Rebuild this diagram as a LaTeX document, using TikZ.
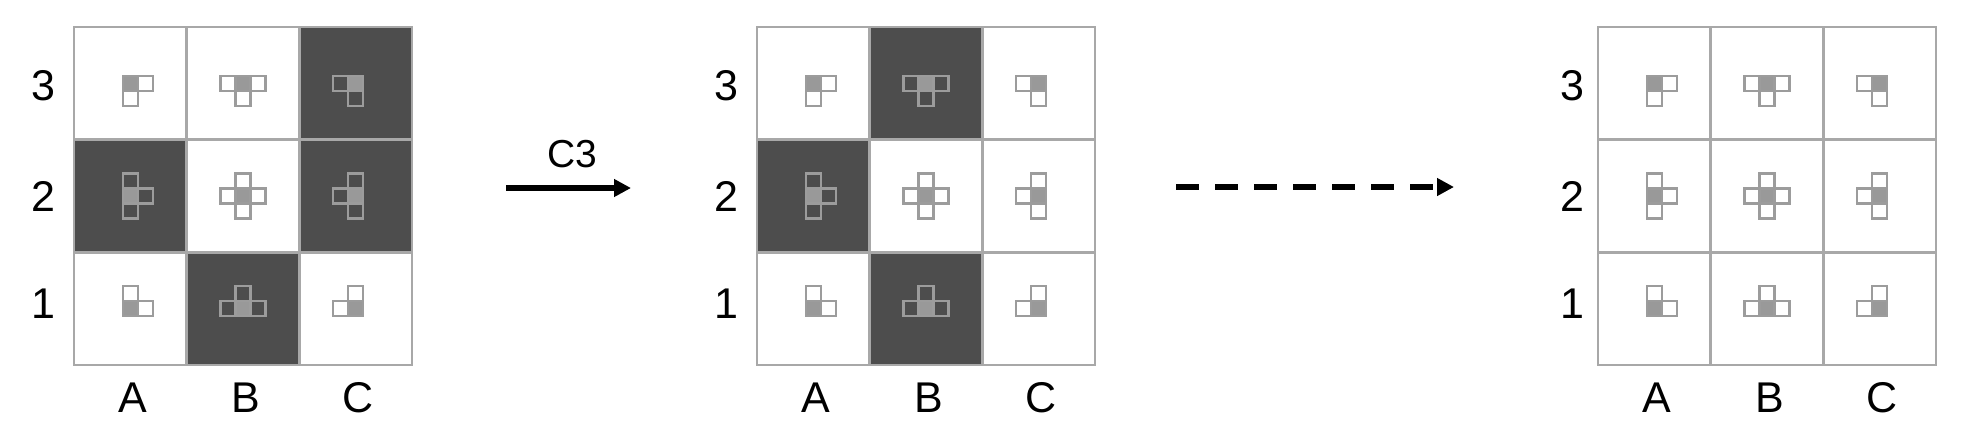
\documentclass[tikz,border=0pt]{standalone}
\usepackage{fontspec}
\setmainfont{Liberation Sans}
\usetikzlibrary{arrows.meta}
\definecolor{darkcell}{HTML}{4D4D4D}
\definecolor{gridline}{HTML}{A8A8A8}
\definecolor{patline}{HTML}{9C9C9C}
\definecolor{patfill}{HTML}{999999}

\newcommand\cellsz{112.6}

\tikzset{
  gridln/.style={draw=gridline, line width=1.3pt},
  patsq/.style={draw=patline, line width=1.1pt},
  patctr/.style={fill=patfill},
  axlab/.style={font=\fontsize{21.5}{24}\selectfont, inner sep=0pt},
  arrlab/.style={font=\fontsize{19.5}{22}\selectfont, inner sep=0pt},
  flow/.style={line width=2.8pt, -{Triangle[length=8.5pt,width=8.5pt]}},
  dashflow/.style={flow, dash pattern=on 11.5pt off 8pt},
}

% #1 name, #2 x0, #3 y0, #4 dark cells (col/row from top), #5 row-label offset
\newcommand\drawgrid[5]{%
  \begin{scope}[shift={(#2,#3)}]
    \foreach \i/\j in {#4}
      \fill[darkcell] ({\i*\cellsz},{\j*\cellsz}) rectangle ++(\cellsz,\cellsz);
    \draw[gridln] (0,\cellsz) -- ++({3*\cellsz},0);
    \draw[gridln] (0,{2*\cellsz}) -- ++({3*\cellsz},0);
    \draw[gridln] (\cellsz,0) -- ++(0,{3*\cellsz});
    \draw[gridln] ({2*\cellsz},0) -- ++(0,{3*\cellsz});
    \draw[gridln] (0,0) rectangle ({3*\cellsz},{3*\cellsz});
    \node[inner sep=0pt, minimum width={3*\cellsz*0.5pt}, minimum height={3*\cellsz*0.5pt}]
      (#1) at ({1.5*\cellsz},{1.5*\cellsz}) {};
    \foreach \i in {0,1,2}{
      \foreach \j in {0,1,2}{
        \pgfmathsetmacro\cx{(\i+0.5)*\cellsz}
        \pgfmathsetmacro\cy{(\j+0.5)*\cellsz}
        \fill[patctr] (\cx-7.5,\cy-7.5) rectangle ++(15,15);
        \draw[patsq] (\cx-7.5,\cy-7.5) rectangle ++(15,15);
        \ifnum\i<2 \draw[patsq] (\cx+7.5,\cy-7.5) rectangle ++(15,15); \fi
        \ifnum\i>0 \draw[patsq] (\cx-22.5,\cy-7.5) rectangle ++(15,15); \fi
        \ifnum\j<2 \draw[patsq] (\cx-7.5,\cy+7.5) rectangle ++(15,15); \fi
        \ifnum\j>0 \draw[patsq] (\cx-7.5,\cy-22.5) rectangle ++(15,15); \fi
      }
    }
    \foreach \yy/\lab in {59/3,169/2,277/1}
      \node[axlab] (#1-r\lab) at (-#5,\yy) {\lab};
    \foreach \i/\lab in {0/A,1/B,2/C}
      \node[axlab] (#1-c\lab) at ({(\i+0.5)*\cellsz+3},371) {\lab};
  \end{scope}
}

\begin{document}
\begin{tikzpicture}[x=0.5pt,y=-0.5pt]
  \fill[white] (0,0) rectangle (1970,441);
  \useasboundingbox (0,0) rectangle (1970,441);

  \drawgrid{g1}{74}{27}{2/0,0/1,2/1,1/2}{31}
  \drawgrid{g2}{757}{27}{1/0,0/1,1/2}{31}
  \drawgrid{g3}{1598}{27}{}{26}

  \coordinate (a1s) at (506,188);
  \coordinate (a1e) at (631,188);
  \draw[flow] (a1s) -- (a1e);
  \node[arrlab] (lab) at (572,154) {C3};

  \coordinate (a2s) at (1176,187);
  \coordinate (a2e) at (1454,187);
  \draw[dashflow] (a2s) -- (a2e);
\end{tikzpicture}
\end{document}
